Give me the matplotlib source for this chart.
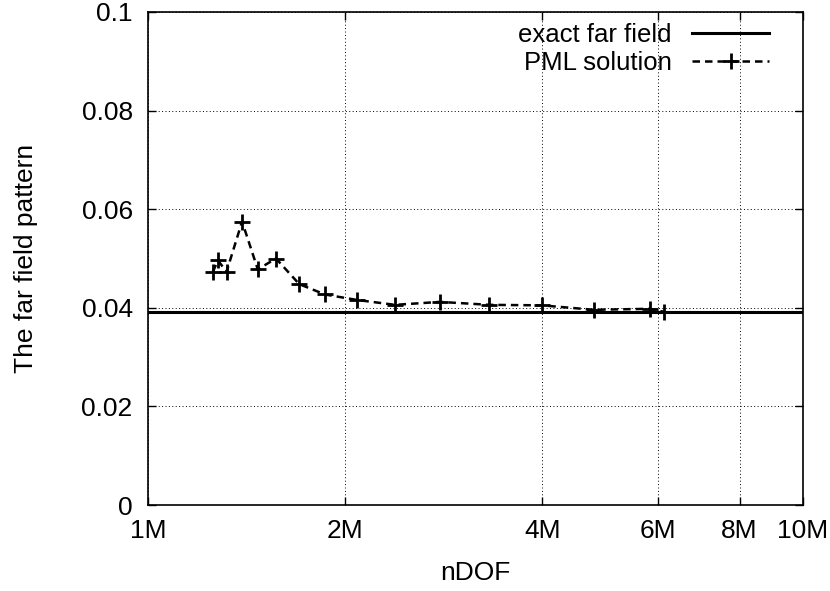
import numpy as np
import matplotlib.pyplot as plt
from matplotlib.ticker import FixedLocator, FixedFormatter, NullLocator

plt.rcParams['font.family'] = ['Liberation Sans', 'DejaVu Sans']

# PML solution vs. number of degrees of freedom
ndof = [1.256e6, 1.279e6, 1.318e6, 1.392e6, 1.471e6, 1.568e6, 1.702e6, 1.863e6,
        2.083e6, 2.383e6, 2.791e6, 3.320e6, 3.991e6, 4.792e6, 5.84e6, 6.13e6]
pml = [0.0473, 0.0496, 0.0473, 0.0575, 0.0478, 0.0500, 0.0448, 0.0427,
       0.0416, 0.0406, 0.0412, 0.0406, 0.0405, 0.0396, 0.0398, 0.0392]
exact = 0.03915

xticks = [1e6, 2e6, 4e6, 6e6, 8e6, 10e6]
xlabels = ['1M', '2M', '4M', '6M', '8M', '10M']
yticks = [0, 0.02, 0.04, 0.06, 0.08, 0.1]
ylabels = ['0', '0.02', '0.04', '0.06', '0.08', '0.1']

fs = 19
fig = plt.figure(figsize=(8.3, 5.91), dpi=100)
ax = fig.add_axes([0.1783, 0.1455, 0.7892, 0.8342])

ax.axhline(exact, color='black', lw=2.2, label='exact far field')
ax.plot(ndof, pml, color='black', ls=(0, (3, 2)), lw=1.8, marker='+', ms=11, mew=2,
        label='PML solution')

ax.set_xscale('log')
ax.set_xlim(1e6, 1e7)
ax.set_ylim(0, 0.1)
ax.xaxis.set_major_locator(FixedLocator(xticks))
ax.xaxis.set_major_formatter(FixedFormatter(xlabels))
ax.xaxis.set_minor_locator(NullLocator())
ax.yaxis.set_major_locator(FixedLocator(yticks))
ax.yaxis.set_major_formatter(FixedFormatter(ylabels))

ax.tick_params(direction='in', length=5.5, width=1, top=True, right=True, labelsize=fs)
ax.tick_params(axis='x', pad=10)
ax.tick_params(axis='y', pad=11)
ax.grid(True, ls=(0, (1, 2.5)), color='black', lw=0.7)
for s in ax.spines.values():
    s.set_linewidth(1.2)

ax.set_xlabel('nDOF', fontsize=fs, labelpad=13)
ax.set_ylabel('The far field pattern', fontsize=fs, labelpad=31)

leg = ax.legend(loc='upper right', bbox_to_anchor=(0.968, 1.003), frameon=False,
                markerfirst=False, fontsize=18.5, handlelength=3.0, handletextpad=0.8,
                labelspacing=0.15, borderaxespad=0.3, borderpad=0.2)
leg._legend_handle_box.get_children()[0].align = 'right'

fig.savefig('out.png', dpi=100)
